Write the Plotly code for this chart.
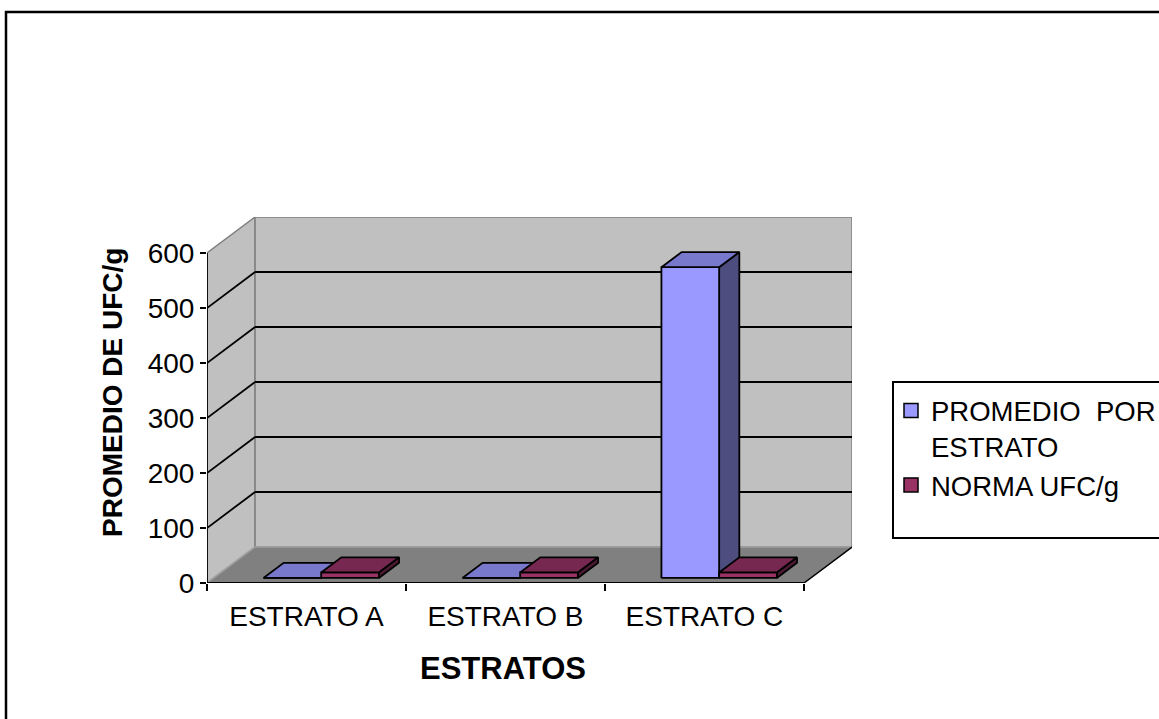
import plotly.graph_objects as go

# ---- data ----
categorias = ["ESTRATO A", "ESTRATO B", "ESTRATO C"]
promedio_por_estrato = [0, 0, 565]
norma_ufc_g = [10, 10, 10]
y_ticks = [0, 100, 200, 300, 400, 500, 600]

serie_nombres = ["PROMEDIO  POR<br>ESTRATO", "NORMA UFC/g"]

# ---- pseudo-3D geometry (axis units) ----
W, H = 1159, 719
L, R, T, B = 207, 852, 217, 583          # plot area in pixels
YMAX = 600
DX = 0.2416                               # depth offset along x (categories)
DY = 65.45                                # depth offset along y (value units)
D0, D1 = 0.14, 0.56                       # bar depth span (fraction of floor depth)
BAR_SPANS = [(-0.25, 0.04), (0.04, 0.33)] # left/right edge of each series in a group

FRONT = ["#9999FF", "#993366"]
TOP = ["#7878CC", "#772851"]
SIDE = ["#4D4D80", "#4D1A33"]


def P(c, v, d):
    return c + d * DX, v + d * DY


def poly(pts, fill, line_color, width=1.8):
    xs = [p[0] for p in pts] + [pts[0][0]]
    ys = [p[1] for p in pts] + [pts[0][1]]
    return go.Scatter(x=xs, y=ys, mode="lines", fill="toself", fillcolor=fill,
                      line=dict(color=line_color, width=width),
                      hoverinfo="skip", showlegend=False)


def seg_trace(segs, color, width):
    xs, ys = [], []
    for a, b in segs:
        xs += [a[0], b[0], None]
        ys += [a[1], b[1], None]
    return go.Scatter(x=xs, y=ys, mode="lines", line=dict(color=color, width=width),
                      hoverinfo="skip", showlegend=False)


fig = go.Figure()

x0, x1 = -0.5, len(categorias) - 0.5

# walls and floor
fig.add_trace(poly([P(x0, 0, 0), P(x0, YMAX, 0), P(x0, YMAX, 1), P(x0, 0, 1)], "#C0C0C0", "#808080", 1.5))
fig.add_trace(poly([P(x0, 0, 1), P(x1, 0, 1), P(x1, YMAX, 1), P(x0, YMAX, 1)], "#C0C0C0", "#808080", 1.5))
fig.add_trace(poly([P(x0, 0, 0), P(x1, 0, 0), P(x1, 0, 1), P(x0, 0, 1)], "#808080", "#A0A0A0", 1.5))

# gridlines on side and back walls
grid = []
for v in y_ticks[1:-1]:
    grid.append((P(x0, v, 0), P(x0, v, 1)))
    grid.append((P(x0, v, 1), P(x1, v, 1)))
fig.add_trace(seg_trace(grid, "black", 1.8))

# floor right edge
fig.add_trace(seg_trace([(P(x1, 0, 0), P(x1, 0, 1))], "black", 1.5))

# bars
series = [promedio_por_estrato, norma_ufc_g]
for i in range(len(categorias)):
    for s, vals in enumerate(series):
        h = vals[i]
        a = i + BAR_SPANS[s][0]
        b = i + BAR_SPANS[s][1]
        # right side face
        fig.add_trace(poly([P(b, 0, D0), P(b, 0, D1), P(b, h, D1), P(b, h, D0)], SIDE[s], "black"))
        # front face
        fig.add_trace(poly([P(a, 0, D0), P(b, 0, D0), P(b, h, D0), P(a, h, D0)], FRONT[s], "black"))
        # top face
        fig.add_trace(poly([P(a, h, D0), P(b, h, D0), P(b, h, D1), P(a, h, D1)], TOP[s], "black"))

# front axes lines
fig.add_trace(seg_trace([((x0, 0), (x0, YMAX)), ((x0, 0), (x1, 0))], "black", 1.8))

# legend entries
for s, name in enumerate(serie_nombres):
    fig.add_trace(go.Scatter(x=[None], y=[None], mode="markers", name=name,
                             marker=dict(symbol="square", size=14, color=FRONT[s],
                                         line=dict(color="black", width=1.5))))


def px_x(px):
    return (px - L) / (R - L)


def px_y(py):
    return (B - py) / (B - T)


FONT = "Liberation Sans, Arial, sans-serif"

fig.update_layout(
    width=W, height=H,
    margin=dict(l=L, r=W - R, t=T, b=H - B, pad=0, autoexpand=False),
    paper_bgcolor="white", plot_bgcolor="white",
    font=dict(family=FONT, size=28, color="black"),
    showlegend=True,
    legend=dict(x=px_x(891), y=px_y(386), xanchor="left", yanchor="top",
                bgcolor="rgba(0,0,0,0)", borderwidth=0, valign="top",
                font=dict(family=FONT, size=27.5, color="black"), tracegroupgap=0),
    xaxis=dict(range=[x0, x1 + DX], showgrid=False, zeroline=False, showline=False,
               tickmode="array", tickvals=list(range(len(categorias))), ticktext=categorias,
               ticks="", ticklabelstandoff=14, automargin=False,
               minor=dict(tickmode="array", tickvals=[x0 + k for k in range(len(categorias) + 1)],
                          ticks="outside", ticklen=7, tickwidth=1.5, tickcolor="black", showgrid=False),
               fixedrange=True),
    yaxis=dict(range=[0, YMAX + DY], showgrid=False, zeroline=False, showline=False,
               tickmode="array", tickvals=y_ticks, ticks="outside", ticklen=6, tickwidth=1.5,
               tickcolor="black", fixedrange=True, automargin=False),
    annotations=[
        dict(text="<b>ESTRATOS</b>", x=px_x(503), y=px_y(668), xref="paper", yref="paper",
             showarrow=False, font=dict(family=FONT, size=31), xanchor="center", yanchor="middle"),
        dict(text="<b>PROMEDIO DE UFC/g</b>", x=px_x(112), y=px_y(392), xref="paper", yref="paper",
             showarrow=False, textangle=-90, font=dict(family=FONT, size=28),
             xanchor="center", yanchor="middle"),
    ],
    shapes=[
        dict(type="rect", xref="paper", yref="paper", x0=px_x(6), x1=px_x(1175),
             y0=px_y(735), y1=px_y(12), line=dict(color="black", width=2.5), layer="below"),
        dict(type="rect", xref="paper", yref="paper", x0=px_x(893), x1=px_x(1175),
             y0=px_y(538), y1=px_y(382), line=dict(color="black", width=2), layer="above"),
    ],
)

fig.write_html("out.html")
